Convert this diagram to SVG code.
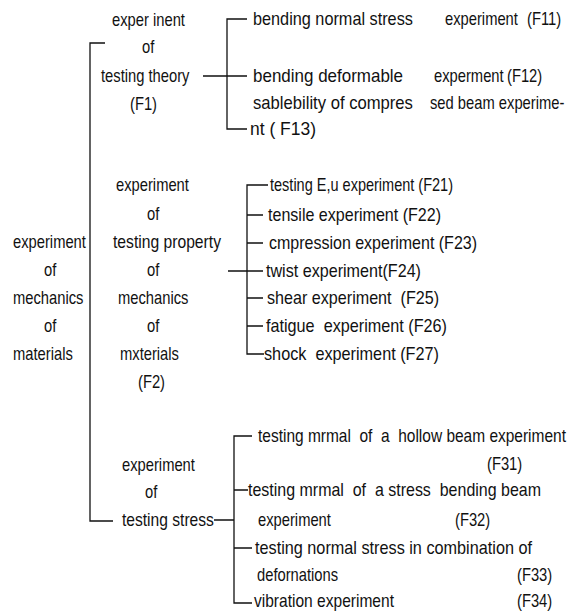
<svg xmlns="http://www.w3.org/2000/svg" width="568" height="612" viewBox="0 0 568 612">
<style>
text{font-family:"Liberation Sans",Arial,sans-serif;font-size:18px;fill:#111;white-space:pre;}
.c{stroke:#111;stroke-width:1.3;fill:none;}
</style>
<rect width="568" height="612" fill="#fff"/>
<g id="connectors" class="c">
<path d="M105,43H90V521H113"/>
<path d="M247,19H227V129H247M203,76H247"/>
<path d="M268,185H247V354H264M247,215H263M247,243H263M228,271H263M247,298H263M247,326H263"/>
<path d="M252,436H234V603H252M234,490H248M214,520H234M234,548H252"/>
</g>
<g id="root" transform="scale(0.82 1)">
<text x="15.85" y="248">experiment</text>
<text x="53.66" y="276">of</text>
<text x="15.85" y="304">mechanics</text>
<text x="53.66" y="332">of</text>
<text x="15.85" y="360">materials</text>
</g>
<g id="F1" transform="scale(0.82 1)">
<text x="136.59" y="26">exper inent</text>
<text x="173.17" y="53">of</text>
<text x="123.17" y="82">testing theory</text>
<text x="158.54" y="110">(F1)</text>
</g>
<g id="F11" transform="scale(0.82 1)">
<text x="308.54" y="25" textLength="195" lengthAdjust="spacingAndGlyphs">bending normal stress</text>
<text x="542.68" y="25">experiment</text>
<text x="642.68" y="25">(F11)</text>
</g>
<g id="F12" transform="scale(0.82 1)">
<text x="308.54" y="82" textLength="183" lengthAdjust="spacingAndGlyphs">bending deformable</text>
<text x="529.27" y="82">experment</text>
<text x="618.29" y="82">(F12)</text>
</g>
<g id="F13" transform="scale(0.82 1)">
<text x="308.54" y="109" textLength="195" lengthAdjust="spacingAndGlyphs">sablebility of compres</text>
<text x="524.39" y="109">sed beam experime-</text>
<text x="304.88" y="135" textLength="80.5" lengthAdjust="spacingAndGlyphs">nt ( F13)</text>
</g>
<g id="F2" transform="scale(0.82 1)">
<text x="141.46" y="191">experiment</text>
<text x="179.27" y="220">of</text>
<text x="137.80" y="248" textLength="131.7" lengthAdjust="spacingAndGlyphs">testing property</text>
<text x="179.27" y="276">of</text>
<text x="143.90" y="304">mechanics</text>
<text x="179.27" y="332">of</text>
<text x="146.34" y="360">mxterials</text>
<text x="168.29" y="388">(F2)</text>
</g>
<g id="F21" transform="scale(0.82 1)"><text x="329.27" y="191" textLength="223.2" lengthAdjust="spacingAndGlyphs">testing E,u experiment (F21)</text></g>
<g id="F22" transform="scale(0.82 1)"><text x="326.83" y="221" textLength="211" lengthAdjust="spacingAndGlyphs">tensile experiment (F22)</text></g>
<g id="F23" transform="scale(0.82 1)"><text x="328.05" y="249" textLength="253.7" lengthAdjust="spacingAndGlyphs">cmpression experiment (F23)</text></g>
<g id="F24" transform="scale(0.82 1)"><text x="324.39" y="277" textLength="189" lengthAdjust="spacingAndGlyphs">twist experiment(F24)</text></g>
<g id="F25" transform="scale(0.82 1)"><text x="325.61" y="304" textLength="209.8" lengthAdjust="spacingAndGlyphs">shear experiment  (F25)</text></g>
<g id="F26" transform="scale(0.82 1)"><text x="324.39" y="332" textLength="220.7" lengthAdjust="spacingAndGlyphs">fatigue  experiment (F26)</text></g>
<g id="F27" transform="scale(0.82 1)"><text x="321.95" y="360" textLength="213.4" lengthAdjust="spacingAndGlyphs">shock  experiment (F27)</text></g>
<g id="F3" transform="scale(0.82 1)">
<text x="148.78" y="471">experiment</text>
<text x="176.83" y="498">of</text>
<text x="148.78" y="526" textLength="112" lengthAdjust="spacingAndGlyphs">testing stress</text>
</g>
<g id="F31" transform="scale(0.82 1)">
<text x="314.63" y="442" textLength="375.6" lengthAdjust="spacingAndGlyphs">testing mrmal  of  a  hollow beam experiment</text>
<text x="593.90" y="470">(F31)</text>
</g>
<g id="F32" transform="scale(0.82 1)">
<text x="302.44" y="496" textLength="357.3" lengthAdjust="spacingAndGlyphs">testing mrmal  of  a stress  bending beam</text>
<text x="314.63" y="526">experiment</text>
<text x="554.88" y="526">(F32)</text>
</g>
<g id="F33" transform="scale(0.82 1)">
<text x="310.98" y="554" textLength="337.8" lengthAdjust="spacingAndGlyphs">testing normal stress in combination of</text>
<text x="313.41" y="581">defornations</text>
<text x="630.49" y="581">(F33)</text>
</g>
<g id="F34" transform="scale(0.82 1)">
<text x="309.76" y="607" textLength="170.7" lengthAdjust="spacingAndGlyphs">vibration experiment</text>
<text x="630.49" y="607">(F34)</text>
</g>
</svg>
